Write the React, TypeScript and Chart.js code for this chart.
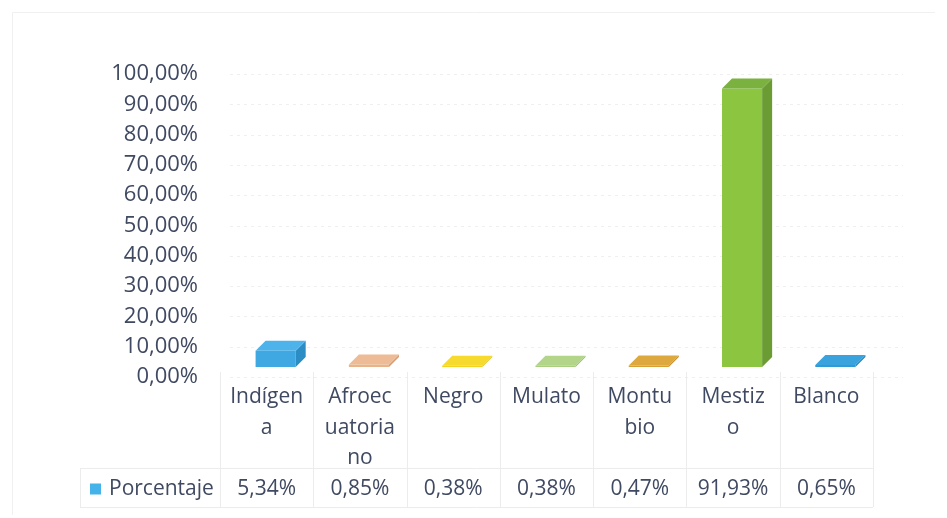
import React, { useEffect, useRef } from "react";
import { Chart, registerables } from "chart.js";

Chart.register(...registerables);

const categories = ["Indígena", "Afroecuatoriano", "Negro", "Mulato", "Montubio", "Mestizo", "Blanco"];
const categoryLabels: string[][] = [
  ["Indígen", "a"],
  ["Afroec", "uatoria", "no"],
  ["Negro"],
  ["Mulato"],
  ["Montu", "bio"],
  ["Mestiz", "o"],
  ["Blanco"],
];
const values = [5.34, 0.85, 0.38, 0.38, 0.47, 91.93, 0.65];
const valueLabels = ["5,34%", "0,85%", "0,38%", "0,38%", "0,47%", "91,93%", "0,65%"];
const yTickLabels = ["0,00%", "10,00%", "20,00%", "30,00%", "40,00%", "50,00%", "60,00%", "70,00%", "80,00%", "90,00%", "100,00%"];
const seriesName = "Porcentaje";

const frontColors = ["#3FA8E2", "#E9B38A", "#F3D31E", "#A9CF7E", "#D8A033", "#8CC640", "#2E9BD8"];
const topColors = ["#4DB3EA", "#EDBB95", "#F6DA2E", "#B2D58A", "#DDA83E", "#7BB13F", "#3AA3DE"];
const sideColors = ["#2C8CC4", "#D49E76", "#DDBD10", "#93B96A", "#C08A26", "#6A9C33", "#2485BE"];

const TEXT = "#3f4961";
const FONT = "'Open Sans', 'Noto Sans', sans-serif";
const DX = 10;
const DY = 10;
const SHIFT = 9;

const threeD = {
  id: "threeD",
  beforeDatasetsDraw(chart: any) {
    const { ctx, chartArea } = chart;
    const ys = chart.scales.y;
    ctx.save();
    ctx.strokeStyle = "#efefef";
    ctx.lineWidth = 1;
    ctx.setLineDash([3, 4]);
    ys.ticks.forEach((t: any) => {
      const py = Math.round(ys.getPixelForValue(t.value) + 10) + 0.5;
      ctx.beginPath();
      ctx.moveTo(chartArea.left + 10, py);
      ctx.lineTo(chartArea.right + 30, py);
      ctx.stroke();
    });
    ctx.restore();
    ctx.save();
    ctx.translate(SHIFT, 0);
  },
  afterDatasetsDraw(chart: any) {
    const { ctx } = chart;
    const meta = chart.getDatasetMeta(0);
    meta.data.forEach((el: any, i: number) => {
      const { x, y, base, width } = el.getProps(["x", "y", "base", "width"], true);
      const l = x - width / 2;
      const r = x + width / 2;
      ctx.fillStyle = sideColors[i];
      ctx.beginPath();
      ctx.moveTo(r, y);
      ctx.lineTo(r + DX, y - DY);
      ctx.lineTo(r + DX, base - DY);
      ctx.lineTo(r, base);
      ctx.closePath();
      ctx.fill();
      ctx.fillStyle = topColors[i];
      ctx.beginPath();
      ctx.moveTo(l, y);
      ctx.lineTo(l + DX, y - DY);
      ctx.lineTo(r + DX, y - DY);
      ctx.lineTo(r, y);
      ctx.closePath();
      ctx.fill();
    });
    ctx.restore();
  },
  afterDraw(chart: any) {
    const { ctx, chartArea } = chart;
    const xs = chart.scales.x;
    const n = categories.length;
    const step = (chartArea.right - chartArea.left) / n;
    const rowTop = 468;
    const rowBottom = 507;
    const tableLeft = 80;
    ctx.save();
    ctx.strokeStyle = "#f0f0f0";
    ctx.lineWidth = 1;
    ctx.beginPath();
    ctx.moveTo(12.5, 515);
    ctx.lineTo(12.5, 12.5);
    ctx.lineTo(935, 12.5);
    ctx.stroke();
    ctx.strokeStyle = "#ececec";
    for (let i = 0; i <= n; i++) {
      const px = Math.round(chartArea.left + i * step) + 0.5;
      ctx.beginPath();
      ctx.moveTo(px, chartArea.bottom + 5);
      ctx.lineTo(px, rowBottom);
      ctx.stroke();
    }
    ctx.beginPath();
    ctx.moveTo(tableLeft, rowTop + 0.5);
    ctx.lineTo(chartArea.right, rowTop + 0.5);
    ctx.moveTo(tableLeft, rowBottom + 0.5);
    ctx.lineTo(chartArea.right, rowBottom + 0.5);
    ctx.moveTo(tableLeft + 0.5, rowTop);
    ctx.lineTo(tableLeft + 0.5, rowBottom);
    ctx.stroke();
    ctx.fillStyle = TEXT;
    ctx.font = `21px ${FONT}`;
    ctx.textAlign = "center";
    ctx.textBaseline = "middle";
    const cy = (rowTop + rowBottom) / 2 + 2;
    valueLabels.forEach((v, i) => {
      ctx.fillText(v, xs.getPixelForValue(i), cy);
    });
    ctx.fillStyle = "#45B3EA";
    ctx.fillRect(90, cy - 6, 11, 11);
    ctx.fillStyle = TEXT;
    ctx.textAlign = "left";
    ctx.fillText(seriesName, 109, cy);
    ctx.restore();
  },
};

export default function App() {
  const ref = useRef<HTMLCanvasElement | null>(null);
  useEffect(() => {
    if (!ref.current) return;
    const chart = new Chart(ref.current, {
      type: "bar",
      data: {
        labels: categoryLabels as any,
        datasets: [
          {
            label: seriesName,
            data: values,
            backgroundColor: frontColors,
            borderWidth: 0,
            barPercentage: 0.43,
            categoryPercentage: 1,
          },
        ],
      },
      options: {
        animation: false,
        responsive: false,
        maintainAspectRatio: false,
        layout: { padding: { top: 64, right: 74, left: 0, bottom: 0 } },
        plugins: { legend: { display: false }, tooltip: { enabled: false } },
        scales: {
          x: {
            grid: { display: false, drawTicks: false },
            border: { display: false },
            ticks: {
              autoSkip: false,
              maxRotation: 0,
              minRotation: 0,
              padding: 15,
              color: TEXT,
              font: { family: FONT, size: 21, lineHeight: 1.45 },
            },
            afterFit: (s: any) => {
              s.height = 151;
            },
          },
          y: {
            min: 0,
            max: 100,
            grid: { display: false, drawTicks: false },
            border: { display: false },
            ticks: {
              stepSize: 10,
              padding: 22,
              labelOffset: 10,
              color: TEXT,
              font: { family: FONT, size: 22 },
              callback: (_v: any, i: number) => yTickLabels[i],
            },
            afterFit: (s: any) => {
              s.width = 220;
            },
          },
        },
      },
      plugins: [threeD],
    });
    return () => chart.destroy();
  }, []);
  return (
    <div style={{ position: "fixed", left: 0, top: 0, width: 947, height: 518, background: "#fff" }}>
      <canvas ref={ref} width={947} height={518} style={{ width: 947, height: 518, display: "block" }} />
    </div>
  );
}
